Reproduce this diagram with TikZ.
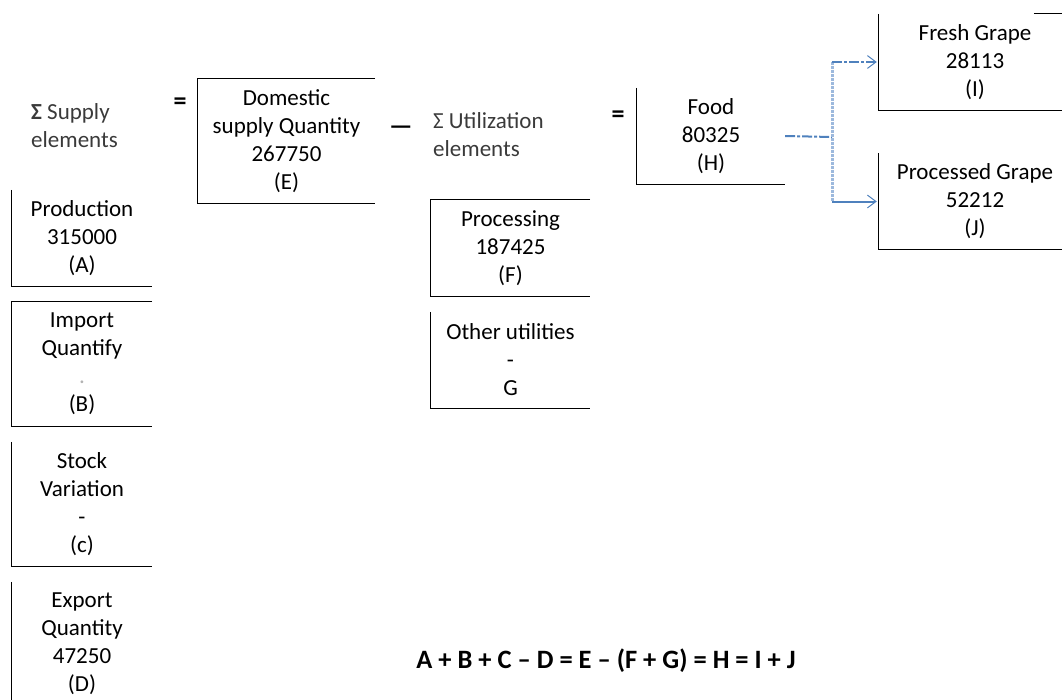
\documentclass[tikz,border=0pt]{standalone}
\usepackage{fontspec}
\setmainfont{Carlito}
\usepackage{xcolor}
\usetikzlibrary{arrows.meta, positioning}
\definecolor{cflow}{HTML}{4F81BD}
\definecolor{cspine}{HTML}{9DB9DD}
\definecolor{ctext}{HTML}{3A3A3A}

\begin{document}
\begin{tikzpicture}[
  x=1pt, y=-1pt,
  font=\fontsize{23}{28}\selectfont,
  cell/.style={align=center, inner sep=0pt},
  box/.style={cell, minimum width=140pt, minimum height=96pt},
  tallbox/.style={box, minimum height=124pt},
  edge/.style={draw=black, line width=1pt},
  flow/.style={draw=cflow, line width=2pt, -{Straight Barb[length=3mm, width=4.5mm, line width=1pt]}},
  dashdot/.style={dash pattern=on 10pt off 2pt on 3pt off 2pt},
  spine/.style={draw=cspine, line width=3pt, densely dotted},
  sign/.style={inner sep=0pt, font=\fontsize{26}{28}\selectfont\bfseries},
  ]
\useasboundingbox (0,0) rectangle (1062,699);

% headings and signs
\node[cell, align=left, anchor=west, text=ctext] (supply) at (31,126) {\textbf{Σ} Supply\\elements};
\node[sign] (eq1) at (180,104) {=};
\node[cell, align=left, anchor=west, text=ctext] (util) at (433,135) {Σ Utilization\\elements};
\node[sign] (minus) at (401,130) {—};
\node[sign] (eq2) at (618,117) {=};

% supply side
\node[tallbox, minimum width=177pt] (dom) at (286.5,141) {Domestic\\supply Quantity\\267750\\(E)};
\node[box] (prod) at (82,238) {Production\\315000\\(A)};
\node[tallbox] (imp) at (82,364) {Import\\Quantify\\{\color{gray!60}.}\\(B)};
\node[tallbox] (stock) at (82,504) {Stock\\Variation\\-\\(c)};
\node[tallbox] (exp) at (82,644) {Export\\Quantity\\47250\\(D)};

% utilization side
\node[box, minimum width=159pt] (proc) at (510.5,248) {Processing\\187425\\(F)};
\node[box, minimum width=159pt] (other) at (510.5,360) {Other utilities\\-\\G};
\node[box, minimum width=148pt] (food) at (711,136) {Food\\80325\\(H)};
\node[box, minimum width=192pt] (fresh) at (975,62) {Fresh Grape\\28113\\(I)};
\node[box, minimum width=192pt] (pgrape) at (975,201.5) {Processed Grape\\52212\\(J)};

% box outlines (partly open)
\draw[edge] (dom.north east) -- (dom.north west) -- (dom.south west) -- (dom.south east);
\draw[edge] (prod.north west) -- (prod.south west) -- (prod.south east);
\draw[edge] (imp.north east) -- (imp.north west) -- (imp.south west) -- (imp.south east);
\draw[edge] (stock.north west) -- (stock.south west) -- (stock.south east);
\draw[edge] (exp.north west) -- (exp.south west);
\draw[edge] (proc.north east) -- (proc.north west) -- (proc.south west) -- (proc.south east);
\draw[edge] (other.north west) -- (other.south west) -- (other.south east);
\draw[edge] (food.north west) -- (food.south west) -- (food.south east);
\draw[edge] ([xshift=155pt]fresh.north west) -- (fresh.north east);
\draw[edge] (fresh.north west) -- (fresh.south west) -- (fresh.south east);
\draw[edge] (pgrape.north west) -- (pgrape.south west) -- (pgrape.south east);

% split of food
\coordinate (split) at (832,137);
\draw[flow, dashdot, -] (food.east) -- (split);
\draw[spine] (split |- fresh.west) -- (split |- pgrape.west);
\draw[flow, dashdot, shorten >=2pt] (split |- fresh.west) -- (fresh.west);
\draw[flow, shorten >=2pt] (split |- pgrape.west) -- (pgrape.west);

\node[cell, font=\fontsize{26.5}{28}\selectfont\bfseries] (formula) at (606,661) {A + B + C – D = E – (F + G) = H = I + J};
\end{tikzpicture}
\end{document}
